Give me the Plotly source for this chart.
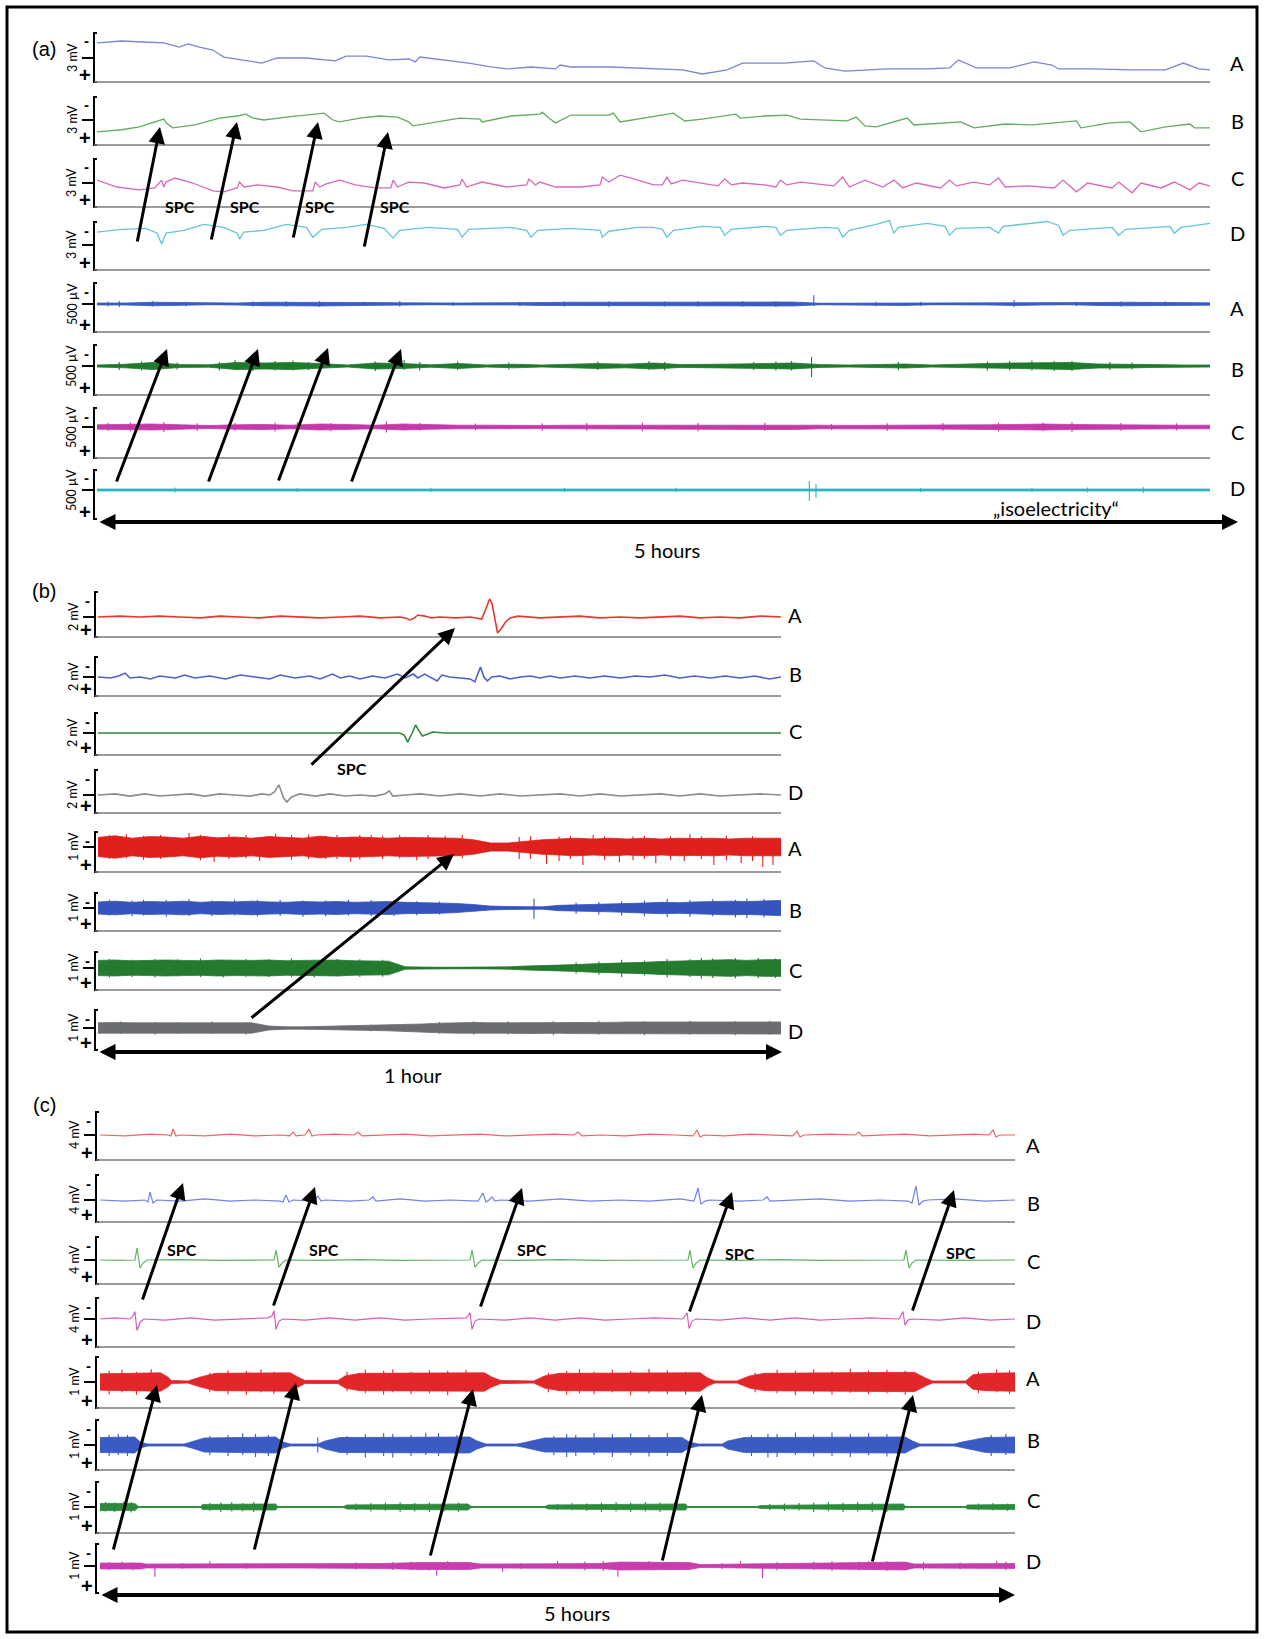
import plotly.graph_objects as go

W, H = 1264, 1639
FONT = "Lato, 'Open Sans', sans-serif"


def PX(x):
    return x / W


def PY(y):
    return 1 - y / H


# ====================== DATA ======================
# ---------- Panel (a): 5 hours ----------
a_units = ['3 mV', '3 mV', '3 mV', '3 mV', '500 µV', '500 µV', '500 µV', '500 µV']
a_letters = ['A', 'B', 'C', 'D', 'A', 'B', 'C', 'D']
a_half = [1.5, 1.5, 1.5, 1.5, 250, 250, 250, 250]   # half of the bracket (mV / µV)

a_A_t = [0.00,0.11,0.21,0.30,0.37,0.41,0.46,0.52,0.57,0.66,0.74,0.81,0.94,1.07,1.12,1.21,1.31,1.40,1.43,1.45,
         1.58,1.67,1.77,1.84,1.95,2.06,2.08,2.13,2.31,2.44,2.63,2.72,2.83,2.90,3.00,3.09,3.22,3.27,3.36,3.55,
         3.73,3.83,3.87,3.95,4.10,4.21,4.29,4.32,4.47,4.65,4.80,4.88,4.95,5.00]
a_A_v = [-0.92,-1.04,-0.98,-0.92,-0.67,-0.86,-0.67,-0.49,-0.06,0.12,0.31,0.00,0.00,0.18,-0.12,-0.12,0.12,0.06,0.24,-0.06,
         0.18,0.31,0.55,0.67,0.55,0.67,0.43,0.55,0.55,0.61,0.73,0.98,0.73,0.31,0.31,0.31,0.18,0.61,0.80,0.67,
         0.67,0.61,0.12,0.61,0.61,0.24,0.43,0.67,0.67,0.73,0.73,0.31,0.67,0.73]

a_B_t = [0.00,0.11,0.19,0.26,0.30,0.31,0.34,0.44,0.55,0.63,0.67,0.70,0.75,0.85,0.96,1.02,1.06,1.09,1.18,1.27,
         1.35,1.40,1.42,1.51,1.63,1.72,1.73,1.86,1.99,2.00,2.03,2.06,2.13,2.30,2.32,2.35,2.43,2.44,2.59,2.64,
         2.72,2.87,2.89,3.00,3.10,3.16,3.27,3.37,3.41,3.45,3.50,3.64,3.67,3.81,3.88,3.94,4.08,4.20,4.32,4.40,
         4.42,4.55,4.64,4.69,4.80,4.91,4.93,5.00]
a_B_v = [0.74,0.61,0.43,0.12,-0.06,0.18,0.49,0.31,-0.12,-0.25,-0.37,-0.12,0.00,-0.18,-0.37,-0.43,0.00,0.12,-0.12,-0.25,
         -0.18,0.12,0.37,0.18,-0.12,-0.06,0.12,-0.25,-0.37,-0.49,-0.12,0.18,-0.31,-0.31,-0.43,0.12,-0.06,-0.12,-0.43,0.06,
         -0.06,-0.37,-0.12,-0.25,-0.31,-0.06,0.00,0.06,-0.18,0.37,0.43,-0.12,0.31,0.18,0.12,0.49,0.25,0.31,0.18,0.06,
         0.49,0.18,0.12,0.74,0.43,0.25,0.49,0.49]

a_C_t = [0.00,0.09,0.19,0.26,0.29,0.30,0.31,0.35,0.43,0.52,0.57,0.63,0.64,0.66,0.72,0.81,0.88,0.97,0.98,1.00,
         1.03,1.09,1.16,1.25,1.32,1.33,1.35,1.40,1.47,1.56,1.63,1.64,1.66,1.73,1.84,1.93,1.94,1.97,1.99,2.06,
         2.17,2.26,2.27,2.30,2.35,2.40,2.50,2.54,2.56,2.58,2.63,2.72,2.79,2.82,2.85,2.90,3.00,3.05,3.07,3.10,
         3.16,3.31,3.35,3.38,3.45,3.53,3.58,3.62,3.68,3.79,3.83,3.86,3.94,4.01,4.05,4.08,4.18,4.30,4.34,4.40,
         4.45,4.56,4.59,4.65,4.69,4.78,4.84,4.91,4.95,5.00]
a_C_v = [-0.18,0.25,0.43,0.31,-0.18,0.25,-0.06,-0.31,0.00,0.49,0.55,0.31,-0.06,0.25,0.12,0.25,0.49,0.49,-0.06,0.25,
         0.06,-0.18,0.12,0.31,0.31,-0.18,0.25,-0.06,0.00,0.31,0.12,-0.25,0.25,-0.06,0.25,0.12,-0.25,0.12,-0.06,0.25,
         0.25,0.12,-0.37,-0.06,-0.49,-0.31,0.12,0.12,-0.37,0.06,-0.18,0.00,0.18,-0.25,0.12,0.00,0.12,0.25,-0.18,0.12,
         -0.06,0.18,-0.37,0.25,-0.18,0.25,-0.18,0.31,0.00,0.31,-0.18,0.18,-0.06,0.12,-0.31,0.25,0.18,0.31,-0.18,0.55,
         0.00,0.31,-0.06,0.61,0.00,0.31,-0.06,0.43,0.00,0.18]

a_D_t = [0.00,0.11,0.22,0.27,0.29,0.31,0.39,0.48,0.57,0.63,0.64,0.66,0.75,0.85,0.94,0.97,1.01,1.12,1.21,1.29,
         1.33,1.36,1.49,1.62,1.64,1.67,1.86,1.93,1.95,1.98,2.13,2.26,2.27,2.30,2.43,2.50,2.54,2.56,2.59,2.72,
         2.80,2.82,2.85,3.00,3.05,3.07,3.10,3.27,3.33,3.35,3.38,3.50,3.56,3.58,3.60,3.73,3.81,3.83,3.86,4.01,
         4.05,4.07,4.27,4.32,4.34,4.37,4.56,4.59,4.62,4.82,4.84,4.87,5.00]
a_D_v = [-0.80,-0.98,-1.04,-0.74,-0.06,-0.74,-0.92,-1.29,-1.10,-0.74,-0.37,-0.80,-0.92,-1.29,-1.10,-0.49,-0.98,-1.10,-1.29,-1.04,
         -0.43,-0.92,-1.10,-0.98,-0.49,-0.98,-1.10,-0.92,-0.49,-0.92,-1.04,-0.92,-0.49,-0.86,-1.10,-1.10,-0.98,-0.49,-0.92,-1.16,
         -1.10,-0.61,-0.98,-1.16,-1.10,-0.61,-0.92,-1.10,-1.04,-0.49,-0.92,-1.29,-1.53,-0.74,-1.10,-1.35,-1.16,-0.61,-1.04,-1.10,
         -0.74,-1.16,-1.47,-1.22,-0.61,-0.92,-1.10,-0.61,-0.98,-1.16,-0.74,-1.10,-1.35]

# high-frequency rows of (a): envelope half-amplitude (µV) on a common time base + spikes
a_env_t = [0,0.125,0.25,0.375,0.5,0.625,0.75,0.875,1,1.125,1.25,1.375,1.5,1.625,1.75,1.875,2,2.125,2.25,2.375,
           2.5,2.625,2.75,2.875,3,3.125,3.25,3.375,3.5,3.625,3.75,3.875,4,4.125,4.25,4.375,4.5,4.625,4.75,4.875,5]
a_A2_amp = [10,10,18,14,8,10,18,18,20,18,15,12,8,10,12,10,15,18,18,15,18,18,20,18,20,20,8,8,12,15,8,8,10,15,10,8,15,18,18,15,12]
a_B2_amp = [10,18,35,14,12,35,30,35,25,10,30,25,12,25,10,18,10,14,25,18,30,14,14,20,25,30,14,10,14,20,10,14,25,30,30,35,20,20,14,10,10]
a_C2_amp = [22,25,30,22,15,22,25,18,30,25,18,30,22,18,18,15,16,18,18,20,22,20,22,22,25,25,18,16,16,18,20,22,22,25,30,25,22,20,18,18,18]
a_D2_amp = [10,10,8,10,8,10,10,8,10,10,8,10,8,10,10,8,10,10,10,8,10,8,10,10,10,10,10,8,10,10,10,8,10,12,10,10,10,14,10,10,10]
a_A2_spk_t = [0.05,0.10,0.25,0.40,0.70,0.85,1.00,1.20,1.36,1.60,1.90,2.10,2.30,2.55,2.70,2.90,3.05,3.22,3.50,3.70,4.12,4.40,4.60,4.80]
a_A2_spk_lo = [-25,-30,-28,-22,-25,-28,-30,-22,-30,-20,-24,-26,-28,-25,-28,-30,-28,-90,-22,-20,-40,-22,-26,-25]
a_A2_spk_hi = [25,30,26,24,26,25,28,20,25,20,22,25,28,25,26,28,30,20,24,20,30,20,25,24]
a_B2_spk_t = [0.10,0.20,0.28,0.36,0.55,0.62,0.70,0.80,0.88,0.95,1.25,1.38,1.45,1.62,1.85,2.25,2.48,2.55,2.95,3.05,
              3.12,3.21,3.60,4.00,4.10,4.20,4.30,4.38,4.55,4.65]
a_B2_spk_lo = [-40,-45,-50,-35,-40,-60,-45,-50,-55,-40,-45,-60,-40,-45,-35,-45,-50,-40,-40,-45,
               -50,-90,-40,-45,-50,-55,-50,-50,-40,-35]
a_B2_spk_hi = [40,45,50,35,45,40,50,45,45,40,50,40,45,40,35,40,40,45,40,45,
               45,110,40,45,45,45,50,50,40,35]
a_C2_spk_t = [0.05,0.15,0.30,0.45,0.62,0.80,0.90,1.05,1.30,1.45,1.70,2.00,2.20,2.45,2.70,3.00,3.30,3.55,3.80,4.05,4.25,4.38,4.60,4.85]
a_C2_spk_lo = [-40,-45,-50,-38,-40,-45,-50,-40,-55,-40,-35,-38,-40,-45,-40,-42,-30,-38,-40,-42,-45,-50,-40,-38]
a_C2_spk_hi = [40,42,50,40,38,45,50,42,55,38,35,40,38,45,42,40,30,40,38,45,42,50,40,36]
a_D2_spk_t = [0.35,0.90,1.50,2.10,2.60,3.20,3.23,3.70,4.20,4.45,4.70]
a_D2_spk_lo = [-25,-20,-22,-20,-22,-90,-60,-20,-22,-25,-30]
a_D2_spk_hi = [25,20,20,22,20,110,80,22,20,25,30]

# ---------- Panel (b): 1 hour (minutes) ----------
b_units = ['2 mV', '2 mV', '2 mV', '2 mV', '1 mV', '1 mV', '1 mV', '1 mV']
b_letters = ['A', 'B', 'C', 'D', 'A', 'B', 'C', 'D']
b_half = [1, 1, 1, 1, 0.5, 0.5, 0.5, 0.5]

b_A_t = [0,1.9,3.7,5.4,7.2,9.0,10.7,12.5,14.2,16.0,17.7,19.5,21.3,23.0,24.8,26.5,27.0,27.4,27.8,28.1,
         28.7,29.3,30.0,31.4,32.7,33.7,34.0,34.3,34.4,34.6,34.8,35.0,35.1,35.4,35.8,36.2,36.9,38.8,40.6,42.3,
         44.1,45.9,47.6,49.4,51.1,52.9,54.6,56.4,58.2,60.0]
b_A_v = [0,-0.04,0,-0.04,0,0.04,-0.04,0,0.04,-0.04,0,0.04,0,-0.04,0.04,0,0.04,0.13,0.04,-0.09,
         -0.04,0.04,0,0.04,0,0.09,-0.27,-0.71,-0.80,-0.62,-0.09,0.53,0.71,0.53,0.22,0.04,-0.04,0.04,0,-0.04,
         0.04,0,0.04,0,-0.04,0.04,0,0.04,-0.04,0]

b_B_t = [0,1.1,1.8,2.4,2.8,3.7,4.6,5.4,6.8,7.6,8.5,9.8,11.2,12.5,13.8,15.1,16.0,17.3,18.6,19.5,
         20.6,21.3,22.1,23.0,24.1,25.2,26.3,27.0,27.7,28.1,28.7,29.3,29.8,30.2,30.9,31.8,32.7,33.1,33.6,33.9,
         34.2,34.6,35.3,36.2,37.1,38.0,38.8,39.7,40.6,41.9,43.2,44.5,45.9,47.2,48.5,49.8,51.1,52.4,53.8,55.1,
         56.4,57.7,59.0,60.0]
b_B_v = [0,0.05,-0.05,-0.2,0.05,0,0.1,-0.05,0.05,-0.1,0.05,-0.05,0.1,-0.1,0,0.1,-0.1,0.05,-0.05,0.1,
         -0.15,0.05,-0.05,0.1,-0.05,0.05,-0.15,0.05,-0.15,0.05,-0.15,0.05,0.2,-0.1,0,0.05,0.1,0.25,-0.51,0,
         0.2,0,-0.05,0.1,0,-0.05,0.05,-0.05,0.05,-0.05,0.05,-0.05,0.05,-0.05,0,-0.1,0.05,-0.05,0.05,-0.05,
         0.05,-0.05,0.1,0]

b_C_t = [0, 26.5, 26.9, 27.2, 27.6, 27.9, 28.2, 28.5, 29.0, 29.4, 30.5, 60]
b_C_v = [0, 0, 0.1, 0.43, 0, -0.38, -0.1, 0.14, 0.05, -0.05, 0, 0]

b_D_t = [0,1.5,2.8,4.1,5.4,6.8,8.1,9.4,10.7,12.0,13.4,14.4,15.1,15.5,15.9,16.3,16.6,17.0,17.7,19.1,
         20.4,21.7,23.0,24.3,25.2,25.6,25.9,27.0,28.3,30.0,31.8,33.6,35.3,37.1,38.8,40.6,42.3,44.1,45.9,47.6,
         49.4,51.1,52.9,54.6,56.4,58.2,60.0]
b_D_v = [0,-0.05,0.05,-0.05,0.05,0,-0.05,0.05,-0.05,0,0.05,-0.05,0,-0.14,-0.47,0.14,0.33,0.09,-0.05,0.05,
         -0.05,0.05,0,0.05,-0.05,-0.19,0.05,0,-0.05,0.05,-0.05,0.05,-0.05,0.05,0,-0.05,0.05,-0.05,0.05,0,
         -0.05,0.05,-0.05,0.05,0,-0.05,0]

b_env_t = [0,1.5,3,4.5,6,7.5,9,10.5,12,13.5,15,16.5,18,19.5,21,22.5,24,25.5,27,28.5,
           30,31.5,33,34.5,36,37.5,39,40.5,42,43.5,45,46.5,48,49.5,51,52.5,54,55.5,57,58.5,60]
b_A2_amp = [.24,.28,.22,.26,.25,.22,.27,.23,.25,.22,.26,.24,.22,.27,.23,.25,.24,.22,.24,.23,
            .22,.22,.18,.10,.10,.14,.18,.20,.22,.20,.22,.20,.22,.20,.22,.21,.22,.20,.22,.22,.22]
b_B2_amp = [.16,.18,.15,.17,.16,.18,.15,.17,.16,.18,.16,.15,.17,.16,.17,.15,.16,.17,.15,.14,
            .14,.12,.09,.05,.04,.03,.03,.07,.08,.09,.10,.12,.13,.15,.14,.16,.17,.18,.17,.19,.20]
b_C2_amp = [.20,.21,.19,.20,.21,.20,.19,.21,.20,.20,.21,.19,.20,.20,.21,.19,.18,.18,.03,.02,
            .02,.02,.02,.02,.03,.05,.06,.08,.09,.11,.12,.14,.15,.17,.18,.20,.21,.22,.20,.22,.22]
b_D2_amp = [.13,.14,.13,.13,.14,.13,.13,.14,.13,.13,.05,.03,.03,.04,.05,.05,.06,.07,.08,.10,
            .12,.13,.14,.13,.13,.14,.14,.13,.14,.14,.14,.15,.15,.14,.15,.15,.15,.14,.15,.15,.15]
b_A2_spk_t = [1.0,2.5,4.0,5.5,8.0,9.0,10.2,11.5,13.0,14.2,15.6,17.0,18.5,20.0,21.0,22.2,23.0,24.0,25.0,26.5,
              28.0,29.0,30.5,32.0,37.0,38.0,39.4,40.5,41.5,42.6,43.5,44.5,45.8,47.0,48.0,49.0,50.3,51.5,52.0,53.0,
              54.1,55.2,56.5,57.5,58.4,59.3]
b_A2_spk_lo = [-.3,-.32,-.28,-.3,-.35,-.3,-.15,-.32,-.3,-.15,-.33,-.3,-.31,-.28,-.3,-.15,-.3,-.3,-.28,-.3,
               -.15,-.3,-.28,-.3,-.25,-.27,-.15,-.26,-.28,-.15,-.3,-.27,-.15,-.26,-.28,-.15,-.27,-.15,-.32,-.27,
               -.15,-.28,-.15,-.27,-.15,-.2]
b_A2_spk_hi = [.3,.28,.32,.3,.15,.33,.37,.3,.28,.35,.15,.32,.3,.3,.3,.36,.31,.15,.3,.29,
               .33,.3,.3,.28,.3,.3,.42,.35,.3,.45,.15,.32,.38,.33,.3,.4,.32,.35,.15,.3,
               .45,.33,.4,.35,.5,.45]
b_B2_spk_t = [1,3,4,6,8,10,12,14,16,18,20,22,24,26,28,30,38.3,42,44,46,48,50,52,54,56,57,58.5]
b_B2_spk_lo = [-.22,-.2,-.22,-.21,-.23,-.2,-.22,-.21,-.22,-.2,-.2,-.22,-.21,-.2,-.18,-.17,-.25,-.14,-.16,-.18,
               -.2,-.24,-.21,-.23,-.22,-.25,-.24]
b_B2_spk_hi = [.2,.22,.2,.23,.21,.22,.2,.22,.21,.23,.22,.2,.22,.21,.19,.17,.28,.15,.17,.2,
               .22,.24,.23,.22,.25,.26,.25]
b_C2_spk_t = [1,3,5,7,9,11,13,15,17,19,21,23,25,42,44,46,48,50,52,53,54,56,58,59.5]
b_C2_spk_lo = [-.24,-.22,-.24,-.23,-.25,-.22,-.24,-.23,-.25,-.22,-.24,-.23,-.22,-.15,-.17,-.22,-.2,-.24,-.23,-.26,
               -.25,-.26,-.26,-.25]
b_C2_spk_hi = [.25,.24,.25,.22,.24,.25,.23,.24,.24,.25,.22,.24,.23,.15,.18,.24,.2,.25,.24,.28,
               .26,.27,.27,.26]
b_D2_spk_t = [2,5,7,10,13,24,27,30,33,36,40,44,48,52,56,59]
b_D2_spk_lo = [-.16,-.15,-.15,-.16,-.15,-.08,-.1,-.15,-.16,-.17,-.17,-.18,-.17,-.18,-.17,-.18]
b_D2_spk_hi = [.15,.16,.15,.15,.16,.08,.1,.14,.17,.16,.18,.17,.18,.17,.18,.17]

# ---------- Panel (c): 5 hours ----------
c_units = ['4 mV', '4 mV', '4 mV', '4 mV', '1 mV', '1 mV', '1 mV', '1 mV']
c_letters = ['A', 'B', 'C', 'D', 'A', 'B', 'C', 'D']
c_half = [2, 2, 2, 2, 0.5, 0.5, 0.5, 0.5]

c_A_t = [0.000,0.137,0.273,0.372,0.388,0.399,0.415,0.437,0.574,0.710,0.847,0.984,1.038,1.055,1.071,1.120,1.142,1.158,1.180,1.284,
         1.388,1.410,1.432,1.530,1.667,1.803,1.940,2.077,2.213,2.350,2.486,2.590,2.612,2.634,2.732,2.869,3.005,3.142,3.240,3.262,
         3.279,3.301,3.415,3.552,3.689,3.787,3.809,3.825,3.847,3.989,4.126,4.148,4.164,4.262,4.399,4.536,4.672,4.781,4.858,4.880,
         4.896,4.918,5.000]
c_A_v = [0,0.08,-0.08,0,0.08,-0.50,0.08,0,0.08,-0.08,0.08,0,0.08,-0.25,0.08,0,-0.50,0.08,0,-0.08,
         0,-0.25,0.08,0,-0.08,0.08,0,-0.08,0.08,0,-0.08,0,-0.25,0.08,0,0.08,-0.08,0,0.08,-0.42,
         0.17,0,0.08,-0.08,0,0.08,-0.33,0.17,0,-0.08,0,-0.25,0.08,0,-0.08,0.08,0,-0.08,0,-0.42,
         0.17,0,0]

c_B_t = [0.000,0.137,0.246,0.262,0.273,0.290,0.311,0.437,0.574,0.710,0.847,0.984,1.000,1.016,1.033,1.055,1.169,1.191,1.208,1.230,
         1.366,1.470,1.492,1.508,1.639,1.776,1.913,2.066,2.093,2.109,2.126,2.142,2.158,2.186,2.350,2.514,2.678,2.842,3.005,3.169,
         3.246,3.268,3.284,3.306,3.333,3.497,3.623,3.645,3.661,3.770,3.934,4.098,4.262,4.415,4.437,4.459,4.475,4.497,4.525,4.672,
         4.836,5.000]
c_B_v = [0,0.09,0,0.17,-0.68,0.26,0,0.09,-0.09,0.09,0,0.09,0.17,-0.43,0.17,0,0.09,-0.34,0.09,0,
         0.09,0,-0.26,0.09,-0.09,0.09,0,0.09,-0.60,0.17,0,-0.26,0.09,0,0.09,-0.09,0.09,0,0.09,-0.09,
         0.09,-1.02,0.34,0.09,0,0.09,0,-0.26,0.09,0,-0.09,0.09,0,0.09,0.26,-1.19,0.43,0.09,0,-0.09,
         0.09,0]

c_C_t = [0,0.109,0.191,0.202,0.219,0.235,0.257,0.437,0.656,0.820,0.951,0.962,0.978,0.995,1.016,1.202,1.421,1.639,1.858,2.022,
         2.033,2.049,2.066,2.087,2.295,2.514,2.732,2.951,3.213,3.224,3.240,3.257,3.279,3.497,3.716,3.934,4.153,4.393,4.404,4.421,
         4.437,4.459,4.699,5.000]
c_C_v = [0,.04,0,-1.02,.68,.26,0,-.04,.04,0,0,-.85,.6,.26,0,.04,-.04,.04,0,0,
         -.85,.6,.26,0,.04,-.04,.04,0,0,-.85,.68,.26,0,.04,-.04,.04,0,0,-.85,.68,
         .26,0,.04,0]

c_D_t = [0.000,0.082,0.164,0.180,0.191,0.202,0.219,0.240,0.355,0.492,0.628,0.765,0.918,0.940,0.951,0.962,0.978,1.000,1.120,1.257,
         1.393,1.530,1.667,1.803,2.000,2.011,2.022,2.033,2.049,2.071,2.213,2.350,2.486,2.623,2.760,2.896,3.033,3.186,3.197,3.208,
         3.219,3.235,3.257,3.388,3.525,3.661,3.798,3.934,4.071,4.208,4.366,4.377,4.388,4.399,4.415,4.437,4.590,4.727,4.863,5.000]
c_D_v = [0,-.09,0,-.26,-.6,.94,.26,0,.09,-.09,.09,0,-.09,-.26,-.68,.85,.17,0,.09,-.09,
         .09,-.09,.09,0,-.09,-.26,-.51,.85,.17,0,.09,-.09,.09,-.09,.09,0,-.09,0,-.26,-.51,
         .77,.17,0,.09,-.09,.09,-.09,.09,0,-.09,0,-.26,-.6,.51,.09,0,.09,-.09,.09,0]

c_A2_t = [0.00,0.33,0.37,0.39,0.48,0.55,0.63,1.04,1.08,1.12,1.30,1.34,1.42,2.10,2.14,2.19,2.37,2.43,2.51,3.28,
          3.32,3.36,3.48,3.55,3.63,4.45,4.51,4.55,4.73,4.77,4.84,5.00]
c_A2_amp = [.16,.18,.10,.03,.02,.10,.17,.18,.10,.03,.03,.12,.17,.18,.10,.03,.02,.12,.17,.18,
            .08,.02,.02,.12,.17,.19,.08,.02,.02,.14,.17,.18]
c_B2_t = [0.00,0.19,0.22,0.26,0.46,0.50,0.57,0.96,1.00,1.04,1.19,1.23,1.31,2.02,2.06,2.11,2.28,2.32,2.43,3.18,
          3.22,3.27,3.40,3.43,3.52,4.40,4.44,4.48,4.67,4.71,4.84,5.00]
c_B2_amp = [.15,.16,.06,.02,.02,.06,.14,.16,.06,.02,.02,.08,.15,.16,.08,.02,.02,.05,.14,.15,
            .06,.02,.02,.08,.15,.16,.08,.02,.02,.06,.15,.16]
c_C2_t = [0.00,0.19,0.21,0.55,0.56,0.96,0.97,1.33,1.35,2.01,2.03,2.43,2.45,3.20,3.21,3.59,3.61,4.39,4.40,4.73,4.74,5.00]
c_C2_amp = [.07,.07,.01,.01,.05,.06,.01,.01,.04,.06,.01,.01,.04,.06,.01,.01,.03,.06,.01,.01,.04,.05]
c_D2_t = [0.00,0.22,0.25,1.09,1.53,1.75,2.02,2.08,2.73,2.84,3.22,3.28,3.83,4.10,4.40,4.45,5.00]
c_D2_amp = [.06,.06,.04,.04,.05,.07,.07,.04,.05,.08,.07,.03,.05,.07,.08,.04,.05]
c_A2_spk_t = [0.05,0.12,0.2,0.28,0.6,0.7,0.8,0.88,0.95,1.35,1.45,1.55,1.6,1.7,1.8,1.9,2.0,2.45,2.55,2.62,
              2.7,2.8,2.9,3.0,3.1,3.2,3.58,3.7,3.8,3.9,4.0,4.1,4.2,4.3,4.4,4.8,4.9,4.97]
c_A2_spk_lo = [-.22,-.24,-.2,-.25,-.18,-.23,-.22,-.25,-.2,-.2,-.24,-.22,-.25,-.2,-.23,-.22,-.24,-.18,-.22,-.25,
               -.2,-.24,-.22,-.26,-.23,-.2,-.18,-.24,-.22,-.25,-.21,-.26,-.23,-.24,-.22,-.2,-.25,-.23]
c_A2_spk_hi = [.24,.2,.25,.22,.2,.24,.25,.2,.23,.18,.22,.25,.2,.24,.22,.26,.2,.2,.25,.22,
               .24,.2,.26,.22,.24,.25,.2,.22,.26,.23,.25,.21,.24,.22,.25,.22,.2,.24]
c_B2_spk_t = [0.05,0.1,0.15,0.6,0.7,0.78,0.85,0.92,1.19,1.35,1.45,1.55,1.6,1.7,1.78,1.85,1.95,2.48,2.55,2.6,
              2.7,2.8,2.9,3.0,3.1,3.56,3.65,3.7,3.8,3.9,4.0,4.1,4.2,4.3,4.87,4.95]
c_B2_spk_lo = [-.2,-.22,-.2,-.18,-.2,-.24,-.22,-.2,-.15,-.18,-.22,-.24,-.22,-.2,-.25,-.24,-.2,-.18,-.22,-.2,
               -.24,-.22,-.23,-.2,-.24,-.2,-.22,-.22,-.25,-.21,-.25,-.22,-.24,-.22,-.2,-.22]
c_B2_spk_hi = [.22,.2,.22,.2,.22,.2,.24,.22,.15,.2,.25,.22,.25,.22,.2,.22,.24,.2,.24,.22,
               .2,.24,.2,.23,.22,.22,.25,.24,.2,.23,.22,.24,.2,.23,.22,.2]
c_C2_spk_t = [0.03,0.08,0.13,0.17,0.6,0.66,0.72,0.78,0.84,0.9,1.4,1.48,1.56,1.64,1.72,1.8,1.88,1.96,2.5,2.58,
              2.66,2.74,2.82,2.9,2.98,3.06,3.14,3.66,3.74,3.82,3.9,3.98,4.06,4.14,4.22,4.3,4.8,4.88,4.96]
c_C2_spk_lo = [-.1,-.09,-.11,-.1,-.08,-.09,-.1,-.08,-.1,-.09,-.07,-.08,-.09,-.1,-.08,-.09,-.1,-.09,-.06,-.08,
               -.07,-.09,-.1,-.09,-.1,-.09,-.1,-.06,-.07,-.08,-.09,-.1,-.09,-.1,-.1,-.09,-.07,-.08,-.07]
c_C2_spk_hi = [.09,.1,.1,.11,.08,.1,.09,.09,.1,.08,.07,.09,.08,.1,.09,.1,.09,.1,.06,.07,
               .08,.1,.09,.1,.09,.1,.09,.06,.08,.07,.1,.09,.1,.09,.1,.1,.07,.07,.08]
c_D2_spk_t = [0.05,0.12,0.18,0.30,0.45,0.60,0.80,1.20,1.40,1.60,1.70,1.80,1.84,1.90,2.20,2.30,2.50,2.65,2.75,2.83,
              2.95,3.00,3.10,3.40,3.50,3.62,3.70,3.90,4.00,4.15,4.20,4.30,4.50,4.70,4.90,4.95]
c_D2_spk_lo = [-.08,-.09,-.07,-.04,-.06,-.1,-.06,-.05,-.07,-.08,-.09,-.08,-.04,-.1,-.04,-.06,-.1,-.09,-.1,-.04,
               -.08,-.1,-.07,-.06,-.1,-.04,-.08,-.09,-.1,-.09,-.1,-.1,-.08,-.07,-.1,-.09]
c_D2_spk_hi = [.08,.07,.09,.22,.06,.04,.06,.05,.07,.08,.08,.09,.2,.04,.12,.06,.04,.09,.1,.22,
               .08,.04,.07,.06,.04,.25,.09,.08,.1,.09,.04,.1,.08,.07,.04,.09]

# ====================== LAYOUT SPEC ======================
panels = [
    dict(xr=[0, 5], x0=97, x1=1210, bx=94, labx=1237, lw=1.3,
         rows=[(33, 58, 82), (97, 120, 145), (159, 183, 207), (222, 245, 270),
               (283, 304, 332), (345, 366, 395), (408, 427, 458), (470, 490, 519)],
         laby=[63, 121, 178, 233, 308, 369, 432, 488],
         half=a_half, units=a_units, letters=a_letters,
         colors=['#7b86d6', '#62ad5e', '#d968b9', '#63c6d6', '#3b5bc4', '#1f7a2c', '#c43aa8', '#2bb5bf'],
         smooth=[(a_A_t, a_A_v), (a_B_t, a_B_v), (a_C_t, a_C_v), (a_D_t, a_D_v)],
         bands=[(a_env_t, a_A2_amp, a_A2_spk_t, a_A2_spk_lo, a_A2_spk_hi),
                (a_env_t, a_B2_amp, a_B2_spk_t, a_B2_spk_lo, a_B2_spk_hi),
                (a_env_t, a_C2_amp, a_C2_spk_t, a_C2_spk_lo, a_C2_spk_hi),
                (a_env_t, a_D2_amp, a_D2_spk_t, a_D2_spk_lo, a_D2_spk_hi)]),
    dict(xr=[0, 60], x0=98, x1=781, bx=95, labx=795, lw=1.6,
         rows=[(592, 617, 637), (657, 677, 696), (713, 733, 755), (770, 795, 813),
               (832, 847, 872), (893, 908, 931), (952, 968, 990), (1010, 1028, 1050)],
         laby=[615, 674, 731, 792, 848, 910, 970, 1031],
         half=b_half, units=b_units, letters=b_letters,
         colors=['#e8372f', '#4c5fcc', '#2e8b3c', '#8c8c8c', '#e0201c', '#3554bd', '#247a2e', '#6b6d72'],
         smooth=[(b_A_t, b_A_v), (b_B_t, b_B_v), (b_C_t, b_C_v), (b_D_t, b_D_v)],
         bands=[(b_env_t, b_A2_amp, b_A2_spk_t, b_A2_spk_lo, b_A2_spk_hi),
                (b_env_t, b_B2_amp, b_B2_spk_t, b_B2_spk_lo, b_B2_spk_hi),
                (b_env_t, b_C2_amp, b_C2_spk_t, b_C2_spk_lo, b_C2_spk_hi),
                (b_env_t, b_D2_amp, b_D2_spk_t, b_D2_spk_lo, b_D2_spk_hi)]),
    dict(xr=[0, 5], x0=100, x1=1015, bx=96, labx=1033, lw=1.2,
         rows=[(1112, 1135, 1160), (1175, 1200, 1222), (1237, 1260, 1284), (1298, 1319, 1347),
               (1357, 1382, 1408), (1420, 1445, 1470), (1482, 1507, 1533), (1544, 1566, 1593)],
         laby=[1145, 1203, 1261, 1321, 1378, 1440, 1500, 1561],
         half=c_half, units=c_units, letters=c_letters,
         colors=['#f2645c', '#6e82e0', '#5fb35f', '#d95cb8', '#e3262a', '#3a5ac4', '#2d8a3c', '#c83db0'],
         smooth=[(c_A_t, c_A_v), (c_B_t, c_B_v), (c_C_t, c_C_v), (c_D_t, c_D_v)],
         bands=[(c_A2_t, c_A2_amp, c_A2_spk_t, c_A2_spk_lo, c_A2_spk_hi),
                (c_B2_t, c_B2_amp, c_B2_spk_t, c_B2_spk_lo, c_B2_spk_hi),
                (c_C2_t, c_C2_amp, c_C2_spk_t, c_C2_spk_lo, c_C2_spk_hi),
                (c_D2_t, c_D2_amp, c_D2_spk_t, c_D2_spk_lo, c_D2_spk_hi)]),
]

fig = go.Figure()
axes = {}
shapes = []
annots = []


def txt(x, y, s, size=20, bold=False, family=FONT, angle=0, xanchor='center', yanchor='middle'):
    if bold:
        s = '<b>' + s + '</b>'
    annots.append(dict(x=PX(x), y=PY(y), xref='paper', yref='paper', text=s, showarrow=False,
                       font=dict(family=family, size=size, color='black'), textangle=angle,
                       xanchor=xanchor, yanchor=yanchor))


def line(x0, y0, x1, y1, color='black', width=2):
    shapes.append(dict(type='line', xref='paper', yref='paper', x0=PX(x0), y0=PY(y0), x1=PX(x1), y1=PY(y1),
                       line=dict(color=color, width=width)))


def arrow(hx, hy, tx, ty, width=3, both=False, size=1.0):
    d = dict(x=PX(hx), y=PY(hy), xref='paper', yref='paper', ax=tx - hx, ay=ty - hy,
             axref='pixel', ayref='pixel', showarrow=True, arrowhead=2, arrowsize=size,
             arrowwidth=width, arrowcolor='black', text='', standoff=0, startstandoff=0)
    if both:
        d['arrowside'] = 'end+start'
    annots.append(d)


yn = 0
for pi, P in enumerate(panels):
    xkey = 'xaxis' if pi == 0 else 'xaxis%d' % (pi + 1)
    xid = 'x' if pi == 0 else 'x%d' % (pi + 1)
    first = 'y' if yn == 0 else 'y%d' % (yn + 1)
    axes[xkey] = dict(domain=[PX(P['x0']), PX(P['x1'])], range=P['xr'], visible=False,
                      anchor=first, fixedrange=True)
    bx = P['bx']
    for r, (top, mid, base) in enumerate(P['rows']):
        yn += 1
        ykey = 'yaxis' if yn == 1 else 'yaxis%d' % yn
        yid = 'y' if yn == 1 else 'y%d' % yn
        k = 1.5
        hh = (base - top) / 2 * k
        half = P['half'][r] * k
        axes[ykey] = dict(domain=[PY(mid + hh), PY(mid - hh)], range=[half, -half], visible=False,
                          anchor=xid, fixedrange=True)
        col = P['colors'][r]
        if r < 4:
            t, v = P['smooth'][r]
            fig.add_trace(go.Scatter(x=t, y=v, xaxis=xid, yaxis=yid, mode='lines',
                                     line=dict(color=col, width=P['lw']),
                                     hoverinfo='skip', showlegend=False))
        else:
            t, amp, st, slo, shi = P['bands'][r - 4]
            xs = list(t) + list(t)[::-1]
            ys = [-a for a in amp] + [a for a in amp[::-1]]
            fig.add_trace(go.Scatter(x=xs, y=ys, xaxis=xid, yaxis=yid, mode='lines', fill='toself',
                                     fillcolor=col, line=dict(color=col, width=0.8),
                                     hoverinfo='skip', showlegend=False))
            fig.add_trace(go.Scatter(x=[t[0], t[-1]], y=[0, 0], xaxis=xid, yaxis=yid, mode='lines',
                                     line=dict(color=col, width=1.3), hoverinfo='skip', showlegend=False))
            sx, sy = [], []
            for tt, lo, hi in zip(st, slo, shi):
                sx += [tt, tt, None]
                sy += [lo, hi, None]
            fig.add_trace(go.Scatter(x=sx, y=sy, xaxis=xid, yaxis=yid, mode='lines',
                                     line=dict(color=col, width=1.1), hoverinfo='skip', showlegend=False))
        # bracket "[" with mid tick, "-" and "+"
        shapes.append(dict(type='path', xref='paper', yref='paper',
                           path='M %f,%f L %f,%f L %f,%f L %f,%f' % (PX(bx + 3), PY(top), PX(bx), PY(top),
                                                                 PX(bx), PY(base), PX(bx + 3), PY(base)),
                           line=dict(color='black', width=2)))
        line(bx - 12, mid, bx, mid, width=2)
        txt(bx - 8, top + 8, '-', size=15, bold=True, family='Liberation Sans')
        txt(bx - 9, base - 7, '+', size=20, bold=True, family='Liberation Sans')
        txt(bx - 22, mid, P['units'][r], size=12.5, angle=-90)
        if r < 7:
            line(bx, base, P['x1'], base, color='#7a7a7a', width=1.6)
        txt(P['labx'], P['laby'][r], P['letters'][r], size=20)

# ---- time arrows and labels ----
arrow(1238, 522, 98, 522, width=4, both=True, size=0.8)
arrow(782, 1052, 98, 1052, width=4, both=True, size=0.8)
arrow(1015, 1595, 100, 1595, width=4, both=True, size=0.8)
txt(667, 550, '5 hours', size=20)
txt(413, 1075, '1 hour', size=20)
txt(577, 1613, '5 hours', size=20)
txt(1056, 508, '\u201eisoelectricity\u201c', size=20)

# ---- SPC arrows ----
for hx, hy, tx, ty in [(160, 127, 137, 243), (237, 122, 211, 241), (318, 122, 293, 239), (388, 132, 364, 248),
                       (167, 349, 116, 483), (258, 349, 208, 483), (328, 348, 278, 482), (401, 349, 351, 483),
                       (455, 628, 310, 766), (454, 854, 250, 1019),
                       (183, 1183, 142, 1301), (315, 1187, 273, 1307), (522, 1188, 480, 1308),
                       (732, 1192, 689, 1313), (954, 1190, 912, 1312),
                       (157, 1385, 113, 1551), (296, 1383, 254, 1551), (473, 1389, 430, 1557),
                       (702, 1395, 662, 1562), (913, 1395, 872, 1563)]:
    arrow(hx, hy, tx, ty, width=3, size=1.1)

for x, y in [(180, 207), (245, 207), (320, 207), (395, 207), (352, 768),
             (182, 1249), (324, 1249), (532, 1249), (740, 1253), (961, 1252)]:
    txt(x, y, 'SPC', size=16, bold=True)

# ---- panel tags ----
txt(44, 49, '(a)', size=20, family='Liberation Sans')
txt(44, 591, '(b)', size=20, family='Liberation Sans')
txt(44, 1105, '(c)', size=20, family='Liberation Sans')

# ---- outer frame ----
shapes.append(dict(type='rect', xref='paper', yref='paper', x0=PX(7), y0=PY(1632), x1=PX(1257), y1=PY(7),
                   line=dict(color='black', width=3)))

fig.update_layout(width=W, height=H, autosize=False, margin=dict(l=0, r=0, t=0, b=0, pad=0),
                  paper_bgcolor='white', plot_bgcolor='rgba(0,0,0,0)', showlegend=False,
                  hovermode=False, shapes=shapes, annotations=annots, **axes)

fig.write_html('out.html')
